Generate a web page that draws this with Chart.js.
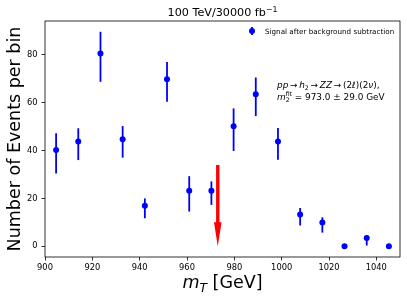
<!DOCTYPE html>
<html>
<head>
<meta charset="utf-8">
<script src="https://cdn.jsdelivr.net/npm/chart.js@4.4.0/dist/chart.umd.min.js"></script>
<style>
  html, body { margin: 0; padding: 0; background: #fff; }
  #wrap { width: 407px; height: 300px; }
</style>
</head>
<body>
<div id="wrap"><canvas id="mtChart" width="407" height="300"></canvas></div>
<script>
// bin centres (900-1050 GeV, 16 bins) and signal after background subtraction
const binCenters = [904.69, 914.06, 923.44, 932.81, 942.19, 951.56, 960.94, 970.31,
                    979.69, 989.06, 998.44, 1007.81, 1017.19, 1026.56, 1035.94, 1045.31];
const signal  = [40.2, 43.8, 80.5, 44.7, 16.9, 69.8, 23.2, 23.2, 50.1, 63.5, 43.8, 13.3, 9.9, 0, 3.5, 0];
const errLow  = [30.4, 36.0, 68.7, 37.0, 11.7, 60.4, 14.5, 17.3, 39.8, 54.4, 36.1, 8.7, 5.7, 0, 0.3, 0];
const errHigh = [47.2, 49.3, 89.6, 50.2, 20.0, 77.0, 29.3, 27.1, 57.6, 70.5, 49.4, 16.0, 12.1, 0, 4.6, 0];

const xTicks = [900, 920, 940, 960, 980, 1000, 1020, 1040];
const yTicks = [0, 20, 40, 60, 80];

const fitMass = 973.0;
const arrowTop = 34;

const FONT = "'DejaVu Sans', sans-serif";
const BLUE = '#0000ff';
const RED = '#ff0000';

// draws a line of mixed text: {t, it, sub, sup}
function drawRuns(ctx, runs, x, y, size, align) {
  const font = (r, s) => (r.it ? 'italic ' : '') + s + 'px ' + FONT;
  const widthOf = (r) => {
    if (r.sub !== undefined || r.sup !== undefined) {
      ctx.font = font(r, size * 0.7);
      return Math.max(r.sub ? ctx.measureText(r.sub).width : 0, r.sup ? ctx.measureText(r.sup).width : 0);
    }
    ctx.font = font(r, size);
    return ctx.measureText(r.t).width;
  };
  let total = 0;
  runs.forEach(r => { total += widthOf(r); });
  let cx = align === 'center' ? x - total / 2 : x;
  ctx.textBaseline = 'alphabetic';
  ctx.textAlign = 'left';
  runs.forEach(r => {
    const w = widthOf(r);
    if (r.sub !== undefined || r.sup !== undefined) {
      ctx.font = font(r, size * 0.7);
      if (r.sub) ctx.fillText(r.sub, cx, y + size * 0.22);
      if (r.sup) ctx.fillText(r.sup, cx, y - size * 0.4);
    } else {
      ctx.font = font(r, size);
      ctx.fillText(r.t, cx, y);
    }
    cx += w;
  });
}

const decorations = {
  id: 'decorations',
  beforeDatasetsDraw(chart) {
    const { ctx, scales: { x, y } } = chart;
    ctx.save();
    ctx.strokeStyle = BLUE;
    ctx.lineWidth = 1.8;
    for (let i = 0; i < binCenters.length; i++) {
      if (errHigh[i] === errLow[i]) continue;
      const px = x.getPixelForValue(binCenters[i]);
      ctx.beginPath();
      ctx.moveTo(px, y.getPixelForValue(errLow[i]));
      ctx.lineTo(px, y.getPixelForValue(errHigh[i]));
      ctx.stroke();
    }
    ctx.restore();
  },
  afterDraw(chart) {
    const { ctx, chartArea: a, scales: { x, y } } = chart;
    ctx.save();

    // frame
    ctx.strokeStyle = '#000';
    ctx.lineWidth = 0.8;
    ctx.strokeRect(a.left, a.top, a.right - a.left, a.bottom - a.top);

    // red arrow at the fitted mass
    const ax = x.getPixelForValue(fitMass);
    const yTop = y.getPixelForValue(arrowTop);
    const yTip = y.getPixelForValue(0);
    const headLen = 24, headW = 3.8, shaftW = 1.7;
    ctx.fillStyle = RED;
    ctx.beginPath();
    ctx.moveTo(ax - shaftW, yTop);
    ctx.lineTo(ax + shaftW, yTop);
    ctx.lineTo(ax + shaftW, yTip - headLen);
    ctx.lineTo(ax + headW, yTip - headLen);
    ctx.lineTo(ax, yTip);
    ctx.lineTo(ax - headW, yTip - headLen);
    ctx.lineTo(ax - shaftW, yTip - headLen);
    ctx.closePath();
    ctx.fill();

    ctx.fillStyle = '#000';
    // title
    drawRuns(ctx, [{ t: '100 TeV/30000 fb' }, { sup: '\u22121' }], (a.left + a.right) / 2, 16, 11.2, 'center');

    // axis titles
    drawRuns(ctx, [{ t: 'm', it: true }, { sub: 'T', it: true }, { t: ' [GeV]' }], (a.left + a.right) / 2, 288, 17.5, 'center');
    ctx.save();
    ctx.translate(20, (a.top + a.bottom) / 2);
    ctx.rotate(-Math.PI / 2);
    drawRuns(ctx, [{ t: 'Number of Events per bin' }], 0, 0, 17.5, 'center');
    ctx.restore();

    // legend
    const lx = 252, ly = 31;
    ctx.strokeStyle = BLUE;
    ctx.fillStyle = BLUE;
    ctx.lineWidth = 1.8;
    ctx.beginPath();
    ctx.moveTo(lx, ly - 4);
    ctx.lineTo(lx, ly + 4);
    ctx.stroke();
    ctx.beginPath();
    ctx.arc(lx, ly, 3, 0, Math.PI * 2);
    ctx.fill();
    ctx.fillStyle = '#000';
    drawRuns(ctx, [{ t: 'Signal after background subtraction' }], 265, ly + 2.5, 7.2, 'left');

    // annotation
    const sp = '\u2009';
    drawRuns(ctx, [
      { t: 'pp', it: true }, { t: sp + '\u2192' + sp }, { t: 'h', it: true }, { sub: '2' },
      { t: sp + '\u2192' + sp }, { t: 'ZZ', it: true }, { t: sp + '\u2192' + sp + '(2' },
      { t: '\u2113', it: true }, { t: ')(2' }, { t: '\u03bd', it: true }, { t: '),' }
    ], 277, 88, 8.9, 'left');
    drawRuns(ctx, [
      { t: 'm', it: true }, { sub: '2', sup: 'fit' },
      { t: ' = 973.0 \u00b1 29.0 GeV' }
    ], 277, 100, 8.9, 'left');

    ctx.restore();
  }
};

new Chart(document.getElementById('mtChart'), {
  type: 'scatter',
  data: {
    datasets: [{
      label: 'Signal after background subtraction',
      data: binCenters.map((v, i) => ({ x: v, y: signal[i] })),
      backgroundColor: BLUE,
      borderColor: BLUE,
      pointRadius: 3,
      pointHoverRadius: 3,
      borderWidth: 0
    }]
  },
  options: {
    responsive: false,
    animation: false,
    devicePixelRatio: 1,
    layout: { padding: { top: 21, right: 7, left: 0, bottom: 0 } },
    plugins: { legend: { display: false }, tooltip: { enabled: false }, title: { display: false } },
    scales: {
      x: {
        type: 'linear',
        min: 900,
        max: 1050,
        afterBuildTicks: (s) => { s.ticks = xTicks.map(v => ({ value: v })); },
        afterFit: (s) => { s.height = 43; },
        grid: { drawOnChartArea: false, drawTicks: true, tickLength: 3.5, color: '#000', lineWidth: 0.8 },
        border: { display: false },
        ticks: { color: '#000', font: { family: FONT, size: 8.3 }, padding: 2, maxRotation: 0, callback: (v) => String(v) }
      },
      y: {
        min: -4.48,
        max: 94.1,
        afterBuildTicks: (s) => { s.ticks = yTicks.map(v => ({ value: v })); },
        afterFit: (s) => { s.width = 45; },
        grid: { drawOnChartArea: false, drawTicks: true, tickLength: 3.5, color: '#000', lineWidth: 0.8 },
        border: { display: false },
        ticks: { color: '#000', font: { family: FONT, size: 8.3 }, padding: 4, callback: (v) => String(v) }
      }
    }
  },
  plugins: [decorations]
});
</script>
</body>
</html>
